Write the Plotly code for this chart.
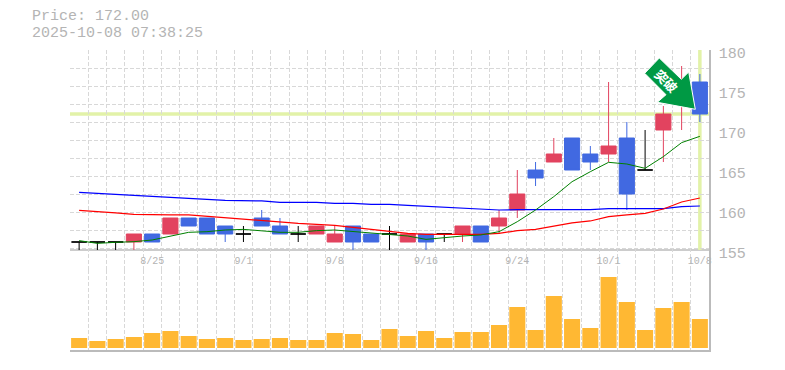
import plotly.graph_objects as go

# --- data -----------------------------------------------------------------
days = list(range(35))
tick_days = [4, 9, 14, 19, 24, 29, 34]
tick_labels = ["8/25", "9/1", "9/8", "9/16", "9/24", "10/1", "10/8"]
price_ticks = [155, 160, 165, 170, 175, 180]

opens = [156,156,156,156,157,157,159,159,158,157,159,158,157,157,156,158,157,157,156,157,157,157,158,158,160,165,166,169,167,167,169,165,170,174,176]
closes = [156,156,156,157,156,159,158,157,157,157,158,157,157,158,157,156,156,157,157,156,157,158,156,159,162,164,167,165,166,168,162,165,172,176,172]
highs = [156,156,156,157,157,159,159,159,158,158,160,159,158,158,158,158,157,158,157,157,157,158,158,160,165,166,169,169,168,176,171,170,173,178,177]
lows = [155,155,155,155,156,157,158,157,156,156,158,157,156,157,156,155,156,155,156,155,156,156,156,157,159,163,166,165,165,166,160,165,166,170,171]

ma_short = [156.17,155.83,155.96,156.04,156.25,156.75,157.21,157.29,157.5,157.58,157.42,157.21,157.21,157.42,157.5,157.29,157.08,156.88,156.75,156.33,156.58,156.75,156.88,157.29,158.54,160.0,161.67,163.54,164.79,165.96,165.75,165.21,166.67,168.42,169.21]
ma_mid = [159.96,159.83,159.63,159.46,159.38,159.38,159.38,159.21,158.96,158.83,158.67,158.46,158.33,158.21,158.08,157.83,157.58,157.38,157.08,156.96,156.96,156.88,156.96,157.08,157.42,157.58,158.0,158.38,158.63,159.17,159.38,159.58,160.13,161.0,161.5]
ma_long = [162.21,162.08,161.92,161.79,161.67,161.5,161.38,161.33,161.21,161.21,161.13,160.96,160.96,160.96,160.83,160.83,160.71,160.71,160.58,160.46,160.33,160.21,160.08,160.0,160.04,160.04,160.04,160.04,160.04,160.17,160.17,160.17,160.17,160.42,160.5]
volumes = [10,7,9,11,15,17,12,9,10,8,9,10,8,8,15,14,8,19,12,17,10,16,16,23,41,18,52,29,20,71,46,18,40,46,29]

price_now = 172.0
title_lines = ["Price: 172.00", "2025-10-08 07:38:25"]
badge_text = "<b>突破</b>"

# --- styling --------------------------------------------------------------
RED, BLUE, BLACK = "#E2435F", "#4169E1", "#000000"
GREY, GRID, MARK, ORANGE = "#B4B4B4", "#D8D8D8", "#E2F2A8", "#FFB833"
LINE = "#BBBBBB"
MONO = "Liberation Mono"
OFF = 8  # page margin around the figure
W, H = 785 - OFF, 370 - OFF
L, R, T, B = 70 - OFF, 777 - 62 - 639, 50 - OFF, 20
PW, PH = W - L - R, H - T - B
px = lambda x: (x - OFF - L) / PW
py = lambda y: 1 - (y - OFF - T) / PH

PRICE_RANGE = [152.5, 180]     # 8 px per yen, panel runs down to the volume area
LABEL_NUDGE = 0.375            # the price labels sit 3 px under their level
grid_levels = [155.25 + 2.25 * k for k in range(12)]

fig = go.Figure()

def candle(idx, color):
    fig.add_trace(go.Candlestick(
        x=[days[i] for i in idx], open=[opens[i] for i in idx], high=[highs[i] for i in idx],
        low=[lows[i] for i in idx], close=[closes[i] for i in idx],
        increasing=dict(line=dict(color=color, width=1), fillcolor=color),
        decreasing=dict(line=dict(color=color, width=1), fillcolor=color),
        whiskerwidth=0, showlegend=False, hoverinfo="skip", xaxis="x", yaxis="y"))

candle([i for i in days if closes[i] > opens[i]], RED)
candle([i for i in days if closes[i] < opens[i]], BLUE)
candle([i for i in days if closes[i] == opens[i]], BLACK)

for series, color, w in ((ma_long, "#0000FF", 1.2), (ma_mid, "#FF0000", 1.2), (ma_short, "#008000", 1)):
    fig.add_trace(go.Scatter(x=days, y=series, mode="lines", line=dict(color=color, width=w),
                             showlegend=False, hoverinfo="skip", xaxis="x", yaxis="y"))

fig.add_trace(go.Bar(x=days, y=volumes, width=0.88, marker=dict(color=ORANGE, line_width=0),
                     showlegend=False, hoverinfo="skip", xaxis="x2", yaxis="y2"))
# empty trace that keeps the grid-only axis alive
fig.add_trace(go.Scatter(x=[None], y=[None], xaxis="x", yaxis="y3", showlegend=False, hoverinfo="skip"))

minor_grid = dict(tick0=-0.5, dtick=1, showgrid=True, gridcolor=GRID, griddash="4px,2px", gridwidth=1, ticks="")

fig.update_layout(
    width=W, height=H, margin=dict(l=L, r=R, t=T, b=B, pad=0), autosize=False,
    paper_bgcolor="white", plot_bgcolor="white", boxgap=0.09, boxgroupgap=0.09, boxmode="overlay", bargap=0.12,
    xaxis=dict(domain=[0, 1], range=[-0.5, 34.5], anchor="y", rangeslider=dict(visible=False),
               tickmode="array", tickvals=tick_days, ticktext=tick_labels, showgrid=False,
               ticklabelposition="inside", ticklabeloverflow="allow", ticklabelstandoff=1,
               tickfont=dict(family=MONO, size=10, color=GREY), ticks="", ticklen=0,
               showline=False, zeroline=False, minor=minor_grid),
    xaxis2=dict(domain=[0, 1], range=[-0.5, 34.5], anchor="y2", showticklabels=False, showgrid=False,
                showline=True, linecolor=LINE, linewidth=1.5, zeroline=False, minor=minor_grid),
    yaxis=dict(domain=[py(270), 1], range=PRICE_RANGE, anchor="x", side="right", showgrid=False,
               tickmode="array", tickvals=[v - LABEL_NUDGE for v in price_ticks], ticktext=[str(v) for v in price_ticks],
               ticks="", zeroline=False, tickfont=dict(family=MONO, size=15, color=GREY), ticklabelstandoff=5,
               showline=True, linecolor=LINE, linewidth=1.5),
    yaxis3=dict(overlaying="y", range=PRICE_RANGE, anchor="x", side="right", tickmode="array",
                tickvals=grid_levels, showticklabels=False, showgrid=True, gridcolor=GRID,
                griddash="4px,2px", gridwidth=1, zeroline=False, ticks=""),
    yaxis2=dict(domain=[0, py(270)], range=[-2, 78], anchor="x2", side="right", showgrid=False,
                showticklabels=False, zeroline=False, ticks="", showline=True, linecolor=LINE, linewidth=1.5),
    shapes=[
        dict(type="line", xref="x", yref="y", x0=-0.5, x1=34.5, y0=price_ticks[0], y1=price_ticks[0],
             line=dict(color=LINE, width=1.5), layer="below"),
        dict(type="line", xref="x", yref="y", x0=-0.5, x1=34.5, y0=price_now, y1=price_now,
             line=dict(color=MARK, width=3.5), layer="below"),
        dict(type="line", xref="x", yref="y", x0=days[-1], x1=days[-1], y0=155, y1=180,
             line=dict(color=MARK, width=3.5), layer="below"),
        dict(type="path", xref="paper", yref="paper", layer="above", fillcolor="#009944",
             line=dict(color="white", width=1),
             path="M {} {} L {} {} L {} {} L {} {} L {} {} L {} {} L {} {} Z".format(
                 px(659.3), py(58), px(644.7), py(73.3), px(666), py(94.7), px(657.3), py(102.3),
                 px(695.3), py(109.3), px(688.7), py(72), px(681.3), py(79.3))),
    ],
    annotations=[
        dict(text=title_lines[0], xref="paper", yref="paper", x=px(30), y=py(17), xanchor="left", yanchor="middle",
             showarrow=False, font=dict(family=MONO, size=15, color=GREY)),
        dict(text=title_lines[1], xref="paper", yref="paper", x=px(30), y=py(33.5), xanchor="left", yanchor="middle",
             showarrow=False, font=dict(family=MONO, size=15, color=GREY)),
        dict(text=badge_text, xref="paper", yref="paper", x=px(666.5), y=py(80), xanchor="center", yanchor="middle",
             showarrow=False, textangle=45, font=dict(family="Noto Sans CJK JP", size=13, color="white")),
    ],
)
fig.write_html("out.html")
